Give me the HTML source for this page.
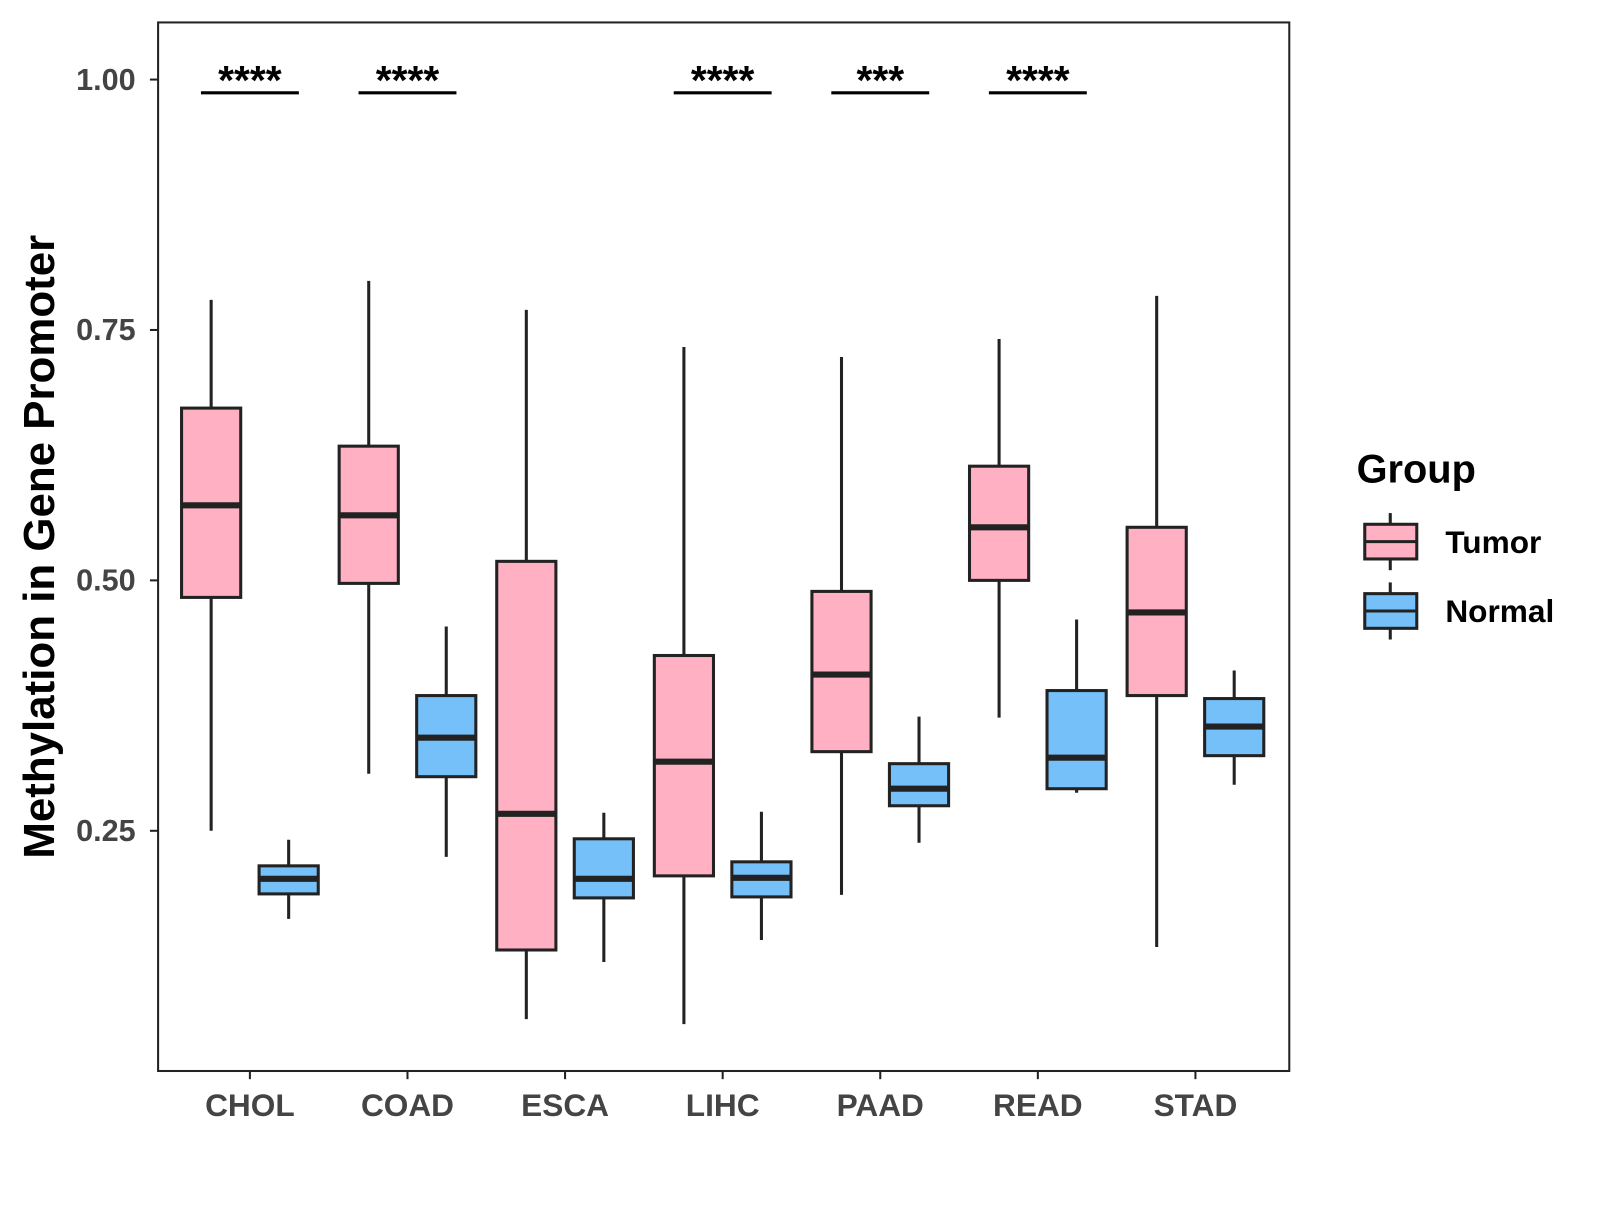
<!DOCTYPE html>
<html><head><meta charset="utf-8"><style>
body{margin:0;background:#fff}
svg text{font-family:"Liberation Sans",Arial,sans-serif;font-weight:bold}
</style></head><body>
<svg id="chart" width="1600" height="1200" viewBox="0 0 1600 1200" xmlns="http://www.w3.org/2000/svg">
<g transform="scale(1.02)">
<rect x="155" y="22" width="1109" height="1028" fill="#fff" stroke="#222" stroke-width="2"/>
<g id="marks"></g>
<text transform="translate(53,536) rotate(-90)" text-anchor="middle" font-size="43" fill="#000">Methylation in Gene Promoter</text>
<g>
<text x="1330" y="473" font-size="39" fill="#000">Group</text>
<g>
<line x1="1363" y1="503" x2="1363" y2="559" stroke="#222" stroke-width="3"/>
<rect x="1338" y="514" width="51" height="34" fill="#FFB0C3" stroke="#222" stroke-width="3"/>
<line x1="1338" y1="531" x2="1389" y2="531" stroke="#222" stroke-width="3"/>
<text x="1417" y="542" font-size="31" fill="#000">Tumor</text></g>
<g>
<line x1="1363" y1="571" x2="1363" y2="627" stroke="#222" stroke-width="3"/>
<rect x="1338" y="582" width="51" height="34" fill="#75C0F8" stroke="#222" stroke-width="3"/>
<line x1="1338" y1="599" x2="1389" y2="599" stroke="#222" stroke-width="3"/>
<text x="1417" y="610" font-size="31" fill="#000">Normal</text></g>
</g>
</g>
</svg>
<script>
const categories=["CHOL","COAD","ESCA","LIHC","PAAD","READ","STAD"];
// [min,q1,median,q3,max]
const tumor=[[0.250,0.483,0.575,0.672,0.780],[0.307,0.497,0.565,0.634,0.799],[0.062,0.131,0.267,0.519,0.770],[0.057,0.205,0.319,0.425,0.733],[0.186,0.329,0.406,0.489,0.723],[0.363,0.500,0.553,0.614,0.741],[0.134,0.385,0.468,0.553,0.784]];
const normal=[[0.162,0.187,0.202,0.215,0.241],[0.224,0.304,0.343,0.385,0.454],[0.119,0.183,0.202,0.242,0.268],[0.141,0.184,0.203,0.219,0.269],[0.238,0.275,0.292,0.317,0.364],[0.288,0.292,0.323,0.390,0.461],[0.296,0.325,0.354,0.382,0.410]];
const signif=["****","****","","****","***","****",""];
const yTicks=[0.25,0.5,0.75,1.0];
const yTickLabels=["0.25","0.50","0.75","1.00"];
const NS="http://www.w3.org/2000/svg";
const y=v=>78+(1-v)*982;
const x=i=>245+i*154.5;
const g=document.getElementById('marks');
function el(t,a,p){const e=document.createElementNS(NS,t);for(const k in a)e.setAttribute(k,a[k]);(p||g).appendChild(e);return e;}
yTicks.forEach((v,i)=>{
 const l=el('line',{x1:147,x2:155,y1:y(v),y2:y(v),stroke:'#222','stroke-width':2});
 
 
 const t=el('text',{x:133,y:y(v)+10,'text-anchor':'end','font-size':30,fill:'#444'});
 
 
 t.textContent=yTickLabels[i];
});
function box(cx,d,fill,name){
 const gg=el('g',{});
 
 
 el('line',{x1:cx,x2:cx,y1:y(d[0]),y2:y(d[4]),stroke:'#222','stroke-width':3},gg);
 el('rect',{x:cx-29,y:y(d[3]),width:58,height:y(d[1])-y(d[3]),fill:fill,stroke:'#222','stroke-width':3},gg);
 el('line',{x1:cx-29,x2:cx+29,y1:y(d[2]),y2:y(d[2]),stroke:'#222','stroke-width':6},gg);
}
categories.forEach((c,i)=>{
 const cx=x(i);
 box(cx-38,tumor[i],'#FFB0C3','box-tumor-'+c.toLowerCase());
 box(cx+38,normal[i],'#75C0F8','box-normal-'+c.toLowerCase());
 const tk=el('line',{x1:cx,x2:cx,y1:1050,y2:1058,stroke:'#222','stroke-width':2});
 
 
 const t=el('text',{x:cx,y:1094,'text-anchor':'middle','font-size':31,fill:'#444'});
 
 
 t.textContent=c;
 if(signif[i]){
  const b=el('line',{x1:cx-48,x2:cx+48,y1:91,y2:91,stroke:'#000','stroke-width':3});
  
  
  const s=el('text',{x:cx,y:92,'text-anchor':'middle','font-size':40,fill:'#000'});
  
  
  s.textContent=signif[i];
 }
});
</script>
</body></html>
